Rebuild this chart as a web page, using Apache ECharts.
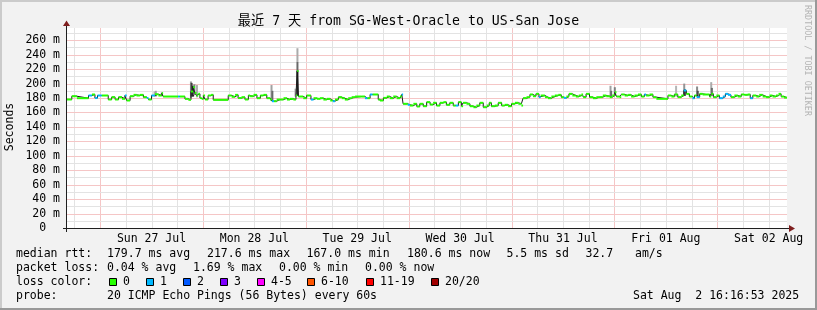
<!DOCTYPE html>
<html><head><meta charset="utf-8">
<script src="https://cdn.jsdelivr.net/npm/echarts@6/dist/echarts.min.js"></script>
<style>html,body{margin:0;padding:0;background:#f2f2f2}#c{width:817px;height:310px}</style>
</head><body><div id="c"></div>
<script>
// ---------------- data ----------------
const chartTitle = '最近 7 天 from SG-West-Oracle to US-San Jose';
const yAxisName = 'Seconds';
// time in hours relative to Sun 27 Jul 2025 00:00
const rangeStart = -7.72, rangeEnd = 160.28;
const dayLabels = ['Sun 27 Jul','Mon 28 Jul','Tue 29 Jul','Wed 30 Jul','Thu 31 Jul','Fri 01 Aug','Sat 02 Aug'];
const dayLabelHours = [12, 36, 60, 84, 108, 132, 156];
const yMax = 277;

// median rtt (ms) per step, with number of lost pings
const medianHours = [
 -7.72,-6.6,-5.4,-2.7,-1.9,-1.2,-0.6,0.4,1.9,2.7, 3.5,4.3,5.1,5.8,6.2,7.0,7.8,8.5,9.3,10.1,
 10.9,11.3,12.0,12.8,13.6,14.4,14.7,18.2,18.6,19.8, 20.6,21.2,21.7,22.1,22.5,22.9,23.3,23.7,24.1,24.5,
 25.2,25.9,26.4,29.9,30.7,31.5,32.2,33.0,33.8,34.6,
 35.0,35.8,36.6,37.4,38.1,38.9,39.7,40.1,40.6,41.2, 42.0,42.8,43.6,44.3,45.1,45.7,46.0,46.3,47.4,48.2,
 49.2,49.8,50.6,51.3,52.1,52.9,53.7,54.3,54.8,55.6, 56.4,57.1,57.9,58.7,59.5,61.0,61.8,62.4,63.0,63.6,
 64.9,65.3,66.1,66.9,67.6,68.4,69.2,70.0,70.4,70.7, 71.8,72.3,73.1,73.9,74.6,75.4,76.2,
 77.0,77.7,78.5,79.3,80.1,80.8,81.6,82.4,83.0,83.6, 84.3,84.7,85.5,86.3,87.1,87.8,88.6,89.4,90.2,90.8,
 91.3,92.1,92.9,93.7,94.4,95.2,96.0,96.8,97.6,98.3, 98.7,99.5,100.3,101.0,101.7,102.4,102.8,103.8,104.5,105.3,
 106.1,106.9,107.6,108.2,108.8,109.4,110.2,111.0,111.7,112.3, 112.7,113.4,114.2,115.0,115.8,116.6,117.3,118.1,
 118.9,119.5,120.1,120.5,121.2,121.6,122.4,123.2,123.9,124.7, 125.5,126.3,127.0,127.4,128.2,129.0,129.8,132.5,133.3,134.0,
 134.8,135.6,136.2,136.8,137.5,138.2,138.7,139.2,139.9,140.6, 141.4,142.2,142.6,143.1,143.8,144.5,145.3,145.9,146.5,147.2,
 148.0,148.8,149.6,150.3,151.1,151.7,152.3,153.1,153.8,154.6, 155.4,156.2,156.9,157.7,158.3,158.9,159.6
];
const medianValues = [
 178,182.5,179.8,183.5,184.9,180,183.5,183.5,178,181.2, 178,181.2,178.9,183.5,176.6,182.5,184.4,183.5,184.4,181.2,
 180,178,183.5,185.3,183.5,186.7,182.1,182.1,182.1,178.9, 177.5,189,195,187.1,183.5,185.8,180,178.9,183.5,178,
 183.5,184.4,177.5,183.5,181.7,184.4,180,181.2,178,183.5,
 182.5,184.4,179.8,183.5,184.4,179.8,177.9,175.6,175.6,177.9, 177.9,179.8,177.9,178.9,177.9,183.5,217.6,182.1,179.8,183.5,
 177.9,179.8,178.9,179.8,177.9,178.9,176.6,175.6,177.9,181.2, 179.8,177.9,179.8,181.2,182.1,182.1,179.8,179.8,184.9,184.9,
 177.9,176.6,180.2,182.1,179.8,182.1,179.8,182.1,184.9,172, 170.6,169.6,172,168.3,172,168.7,174.3,
 171,173.4,169.6,173.4,174.3,170.6,173.4,169.6,169.6,174.3, 168.7,173.4,172,168.7,167.3,169.6,173.4,167.3,169.6,173.4,
 168.7,169.6,173.4,169.6,170.6,168.7,172,173.4,172,169.6, 179.8,181.2,184.9,182.5,185.8,181.2,183.5,181.2,179.8,182.1,
 183.5,184.4,181.2,180.2,182.1,185.8,183.5,182.1,183.5,184.9, 181.2,185.8,181.2,179.8,181.2,181.2,183.5,182.5,
 181.2,183.5,188,182.1,181.2,184.9,183.5,184.4,182.1,183.5, 184.9,182.1,184.9,183.5,184.9,181.2,178.9,183.5,182.1,184.9,
 181.2,183.5,190.4,185.8,182.1,179.8,183.5,181.2,185.8,184.9, 184.9,182.1,185.8,181.2,183.5,179.8,182.1,185.8,184.4,181.2,
 183.5,182.1,184.9,184.4,184.9,179.8,183.5,182.1,184.4,182.1, 181.2,183.5,182.1,183.5,185.8,182.1,180.6
];
const medianLoss = [
 0,0,0,1,0,1,1,0,0,0, 0,0,0,1,0,0,0,0,0,0, 1,0,1,0,0,0,0,1,0,0, 0,0,0,0,0,0,0,0,0,0, 0,0,0,0,0,0,0,0,0,0,
 0,0,0,0,0,0,0,1,0,0, 0,0,0,0,0,0,0,0,0,0, 1,0,0,0,0,0,0,1,0,0, 0,0,0,0,0,0,1,0,1,0, 0,0,0,0,0,0,0,0,1,0, 1,0,0,0,0,0,0,
 0,0,0,0,0,0,0,0,1,0, 0,0,0,0,0,0,0,0,0,0, 0,0,0,0,0,0,0,0,0,0, 0,0,0,0,0,1,0,0,0,0, 0,0,0,1,0,0,0,0,0,0, 0,0,0,0,0,0,0,0,
 0,0,0,0,0,0,0,0,0,0, 0,0,1,0,0,0,0,0,0,0, 0,0,1,0,0,1,0,1,0,0, 0,0,0,0,0,1,1,1,1,0, 0,0,0,0,0,1,0,0,0,0, 0,0,0,0,0,0,0
];

// smoke (spread of the 20 pings) where it shows beyond the median line
const smokeHours   = [12.7,13.0,14.4,21.2,21.35,21.7,22.0,22.6,40.0,40.2,45.6,46.05,46.05,46.05,119.1,119.25,120.1,134.4,136.3,136.45,139.3,139.45,142.6,142.75];
const smokeLow     = [182, 182, 183, 180, 182,  182, 184, 181, 176, 176, 182, 230,  218,  183,  182,  182,   183,  182,  183,  183,   182,  182,   183,  183];
const smokeHigh    = [189, 190, 188, 203, 201,  197, 199, 198, 198, 190, 193, 249,  230,  218,  197,  190,   195,  197,  200,  192,   196,  190,   202,  194];
const smokeDensity = [0.25,0.35,0.3,0.35,0.8,  0.95,0.5, 0.3, 0.35,0.6, 0.3, 0.3,  0.6,  0.95, 0.35, 0.6,   0.5,  0.25, 0.4,  0.8,   0.45, 0.75,  0.3,  0.6];

const lossLabels = ['0','1','2','3','4-5','6-10','11-19','20/20'];
const lossColors = ['#26ff00','#00b8ff','#0059ff','#7e00ff','#ff00ff','#ff5500','#ff0000','#a10000'];
const rttLabel = 'median rtt:';
const rttStats = ['179.7 ms avg','217.6 ms max','167.0 ms min','180.6 ms now','5.5 ms sd','32.7','am/s'];
const lossLabel = 'packet loss:';
const lossStats = ['0.04 % avg','1.69 % max','0.00 % min','0.00 % now'];
const colorLabel = 'loss color:';
const probeLabel = 'probe:';
const probeText = '20 ICMP Echo Pings (56 Bytes) every 60s';
const stampText = 'Sat Aug  2 16:16:53 2025';
const watermark = 'RRDTOOL / TOBI OETIKER';

// ---------------- styles ----------------
const MONO = '"DejaVu Sans Mono","Noto Sans CJK SC",monospace';
const FS = 11.5;
const GRID = '#e3e3e3';
const MGRID = '#f5c6c6';
const AXIS = '#1f1f1f';
const ARROW = '#7f1f1f';

const yGridValues = [];
for (let v = 10; v < yMax; v += 10) yGridValues.push(v);
const xGridHours = [];
for (let h = -6; h <= rangeEnd; h += 6) xGridHours.push(h);

const medianSegs = medianHours.map((h, i) => [h, i + 1 < medianHours.length ? medianHours[i + 1] : rangeEnd, medianValues[i], medianLoss[i]]);
const stepLine = medianHours.map((h, i) => [h, medianValues[i]]).concat([[rangeEnd, medianValues[medianValues.length - 1]]]);
const smokeData = smokeHours.map((h, i) => [h, smokeLow[i], smokeHigh[i], smokeDensity[i]]);

// ---------------- graphics (text / frame) ----------------
const G = [];
function txt(x, y, s, opt) {
  opt = opt || {};
  G.push({type: 'text', x: x, y: y, rotation: opt.rot || 0, z: 100,
    style: {text: s, fill: opt.color || '#000', font: (opt.fs || FS) + 'px ' + MONO,
      align: opt.align || 'left', verticalAlign: 'middle', textAlign: opt.align || 'left', textVerticalAlign: 'middle'}});
}
// 3d border
G.push({type: 'rect', shape: {x: 0, y: 0, width: 817, height: 2}, style: {fill: '#cbcbcb'}, z: 100});
G.push({type: 'rect', shape: {x: 0, y: 0, width: 2, height: 310}, style: {fill: '#cbcbcb'}, z: 100});
G.push({type: 'rect', shape: {x: 0, y: 308, width: 817, height: 2}, style: {fill: '#999999'}, z: 100});
G.push({type: 'rect', shape: {x: 815, y: 0, width: 2, height: 310}, style: {fill: '#999999'}, z: 100});
// axes + arrows
G.push({type: 'line', shape: {x1: 63, y1: 228.5, x2: 791, y2: 228.5}, style: {stroke: AXIS, lineWidth: 1}, z: 50});
G.push({type: 'line', shape: {x1: 66.5, y1: 232, x2: 66.5, y2: 24}, style: {stroke: AXIS, lineWidth: 1}, z: 50});
G.push({type: 'polygon', shape: {points: [[789, 225], [789, 232], [795, 228.5]]}, style: {fill: ARROW}, z: 51});
G.push({type: 'polygon', shape: {points: [[63, 26], [70, 26], [66.5, 20.5]]}, style: {fill: ARROW}, z: 51});
// titles
txt(408.5, 21.5, chartTitle, {fs: 13.2, align: 'center'});
txt(10, 127, yAxisName, {rot: Math.PI / 2, align: 'center'});
txt(807, 5, watermark, {rot: -Math.PI / 2, fs: 8.4, color: '#b4b4b4'});
// legend rows
const rttX = [107, 207, 306.5, 407, 506.5, 585.5, 635];
txt(16, 254, rttLabel);
rttStats.forEach((s, i) => txt(rttX[i], 254, s));
const lossX = [107, 193, 279, 365];
txt(16, 268, lossLabel);
lossStats.forEach((s, i) => txt(lossX[i], 268, s));
txt(16, 282, colorLabel);
const boxX = [109, 146, 183, 220, 257, 307, 366, 431];
lossLabels.forEach((s, i) => {
  G.push({type: 'rect', shape: {x: boxX[i] + 0.5, y: 278.5, width: 7, height: 7}, style: {fill: lossColors[i], stroke: '#000', lineWidth: 1}, z: 100});
  txt(boxX[i] + 14, 282, s);
});
txt(16, 296, probeLabel);
txt(107, 296, probeText);
txt(633, 296, stampText);

// ---------------- chart ----------------
const chart = echarts.init(document.getElementById('c'), null, {renderer: 'canvas'});
chart.setOption({
  animation: false,
  backgroundColor: '#f2f2f2',
  grid: {left: 67, right: 30, top: 28, bottom: 82, show: true, backgroundColor: '#ffffff', borderWidth: 0},
  xAxis: {
    type: 'value', min: rangeStart, max: rangeEnd,
    axisLine: {show: false},
    axisTick: {show: false},
    axisLabel: {customValues: dayLabelHours, formatter: v => dayLabels[dayLabelHours.indexOf(v)] || '',
      fontFamily: MONO, fontSize: FS, color: '#000', margin: 5, hideOverlap: false},
    splitLine: {show: false}
  },
  yAxis: {
    type: 'value', min: 0, max: yMax, interval: 10,
    axisLine: {show: false}, axisTick: {show: false},
    axisLabel: {formatter: v => v === 0 ? '0  ' : (v % 20 === 0 && v < yMax ? v + ' m' : ''),
      fontFamily: MONO, fontSize: FS, color: '#000', margin: 7},
    splitLine: {show: false}
  },
  series: [
    { // vertical grid: every 6 h, midnight in red
      type: 'custom', z: 0, silent: true, data: xGridHours.map(h => [h, 0]), encode: {x: 0, y: 1},
      renderItem: function (params, api) {
        const h = api.value(0);
        const p0 = api.coord([h, 0]), p1 = api.coord([h, yMax]);
        return {type: 'rect', shape: {x: Math.round(p0[0]), y: p1[1], width: 1, height: p0[1] - p1[1]},
          style: {fill: Math.abs(h % 24) < 1e-6 ? MGRID : GRID, stroke: null}};
      }
    },
    { // horizontal grid: every 10 ms, every 20 ms in red
      type: 'custom', z: 0, silent: true, data: yGridValues.map(v => [rangeStart, v]), encode: {x: 0, y: 1},
      renderItem: function (params, api) {
        const v = api.value(1);
        const p0 = api.coord([rangeStart, v]), p1 = api.coord([rangeEnd, v]);
        return {type: 'rect', shape: {x: p0[0], y: Math.round(p0[1]), width: p1[0] - p0[0], height: 1},
          style: {fill: v % 20 === 0 ? MGRID : GRID, stroke: null}};
      }
    },
    {
      type: 'custom', z: 1, silent: true, data: smokeData, encode: {x: 0, y: [1, 2]},
      renderItem: function (params, api) {
        const h = api.value(0), lo = api.value(1), hi = api.value(2), d = api.value(3);
        const p0 = api.coord([h, hi]), p1 = api.coord([h, lo]);
        const g = Math.round(235 - d * 215);
        return {type: 'rect', shape: {x: p0[0] - 1, y: p0[1], width: 2, height: p1[1] - p0[1]},
          style: {fill: 'rgb(' + g + ',' + g + ',' + g + ')'}};
      }
    },
    {
      type: 'line', z: 2, silent: true, data: stepLine, step: 'end', showSymbol: false,
      lineStyle: {color: '#1a1a1a', width: 1}
    },
    {
      type: 'custom', z: 3, silent: true, data: medianSegs, encode: {x: [0, 1], y: 2},
      renderItem: function (params, api) {
        const h0 = api.value(0), h1 = api.value(1), v = api.value(2), l = api.value(3);
        const p0 = api.coord([h0, v]), p1 = api.coord([h1, v]);
        return {type: 'rect', shape: {x: p0[0], y: p0[1] - 1, width: Math.max(p1[0] - p0[0], 1), height: 2},
          style: {fill: lossColors[l]}};
      }
    }
  ],
  graphic: G
});
</script>
</body></html>
